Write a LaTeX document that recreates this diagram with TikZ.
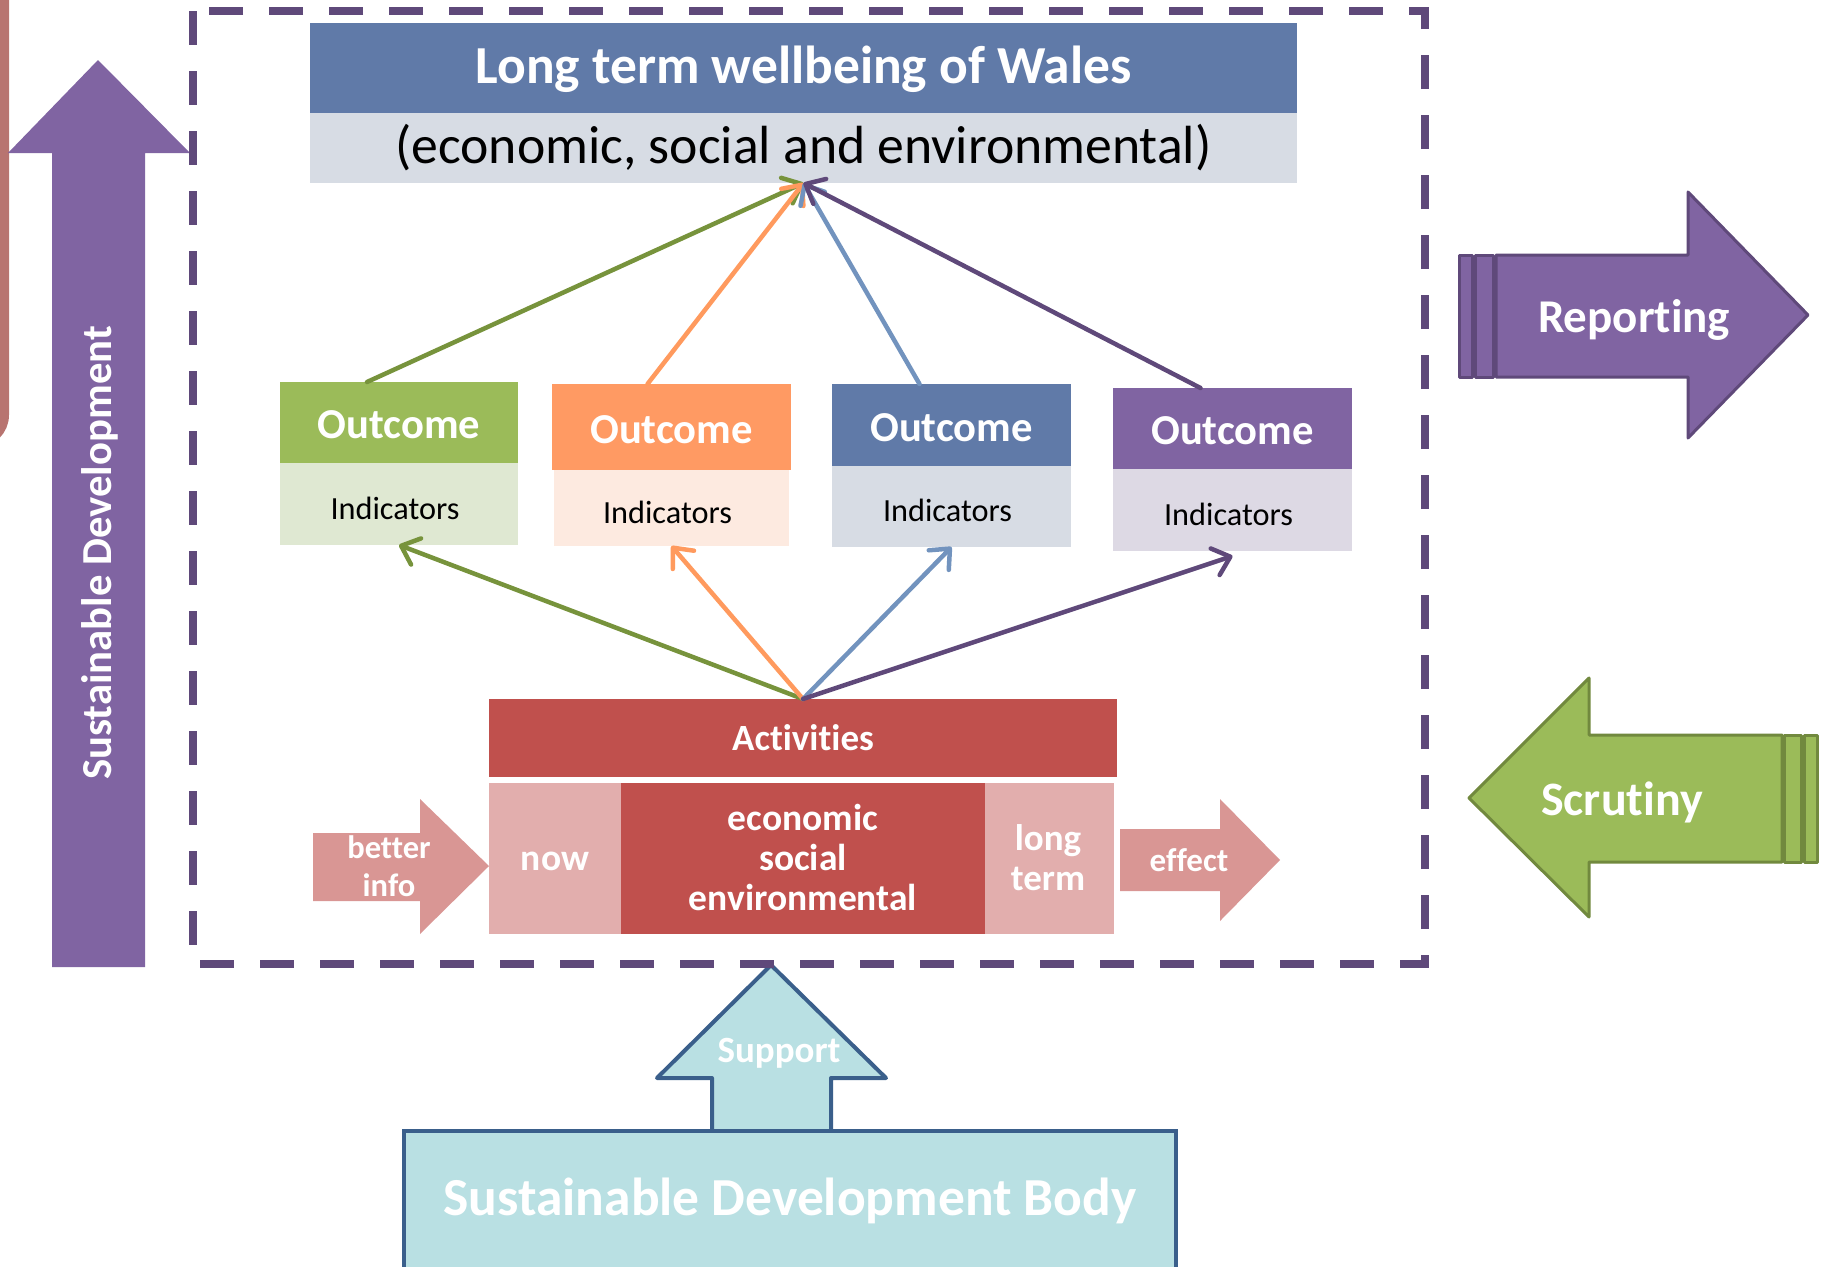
\documentclass[tikz,border=0pt]{standalone}
\usepackage{fontspec}
\setmainfont{Carlito}[Ligatures=CommonOff]
\usetikzlibrary{arrows.meta}
\newcommand\myfs[2]{\fontsize{#1}{#2}\selectfont}
\definecolor{tblue}{HTML}{607AA8}
\definecolor{tlight}{HTML}{D7DCE4}
\definecolor{ogreen}{HTML}{9BBB59}
\definecolor{glight}{HTML}{DFE8D2}
\definecolor{oorange}{HTML}{FF9A63}
\definecolor{olight}{HTML}{FDEAE0}
\definecolor{oblue}{HTML}{607AA8}
\definecolor{blight}{HTML}{D7DCE4}
\definecolor{opurple}{HTML}{8064A2}
\definecolor{plight}{HTML}{DDD9E4}
\definecolor{lgreen}{HTML}{77933C}
\definecolor{lorange}{HTML}{FF9A5E}
\definecolor{lblue}{HTML}{7293BE}
\definecolor{lpurple}{HTML}{5F497A}
\definecolor{actred}{HTML}{C0504D}
\definecolor{pinkbox}{HTML}{E2AEAD}
\definecolor{pinkarrow}{HTML}{D99694}
\definecolor{sdbfill}{HTML}{B9E0E3}
\definecolor{sdbline}{HTML}{3A5F8B}
\definecolor{brownc}{HTML}{B87470}
\definecolor{scrline}{HTML}{71893E}
\newcommand\indtext{Indicators\kern8pt}
\begin{document}
\begin{tikzpicture}[x=1pt,y=-1pt,
  box/.style={inner sep=0pt, outer sep=0pt, align=center},
  wtitle/.style={text=white, font=\bfseries\myfs{#1}{#1}},
  outc/.style={box, wtitle=42.6, minimum width=239pt, text height=32pt, text depth=0pt},
  indc/.style={inner sep=0pt, outer sep=0pt, font=\myfs{32.3}{36}, minimum width=239pt, text height=30pt, text depth=0pt},
  conn/.style={line width=4.5pt, line cap=round, -{Straight Barb[length=16pt,width=28pt,round]}},
  dashline/.style={draw=lpurple, line width=8pt, dash pattern=on 34pt off 26pt},
  bigarrow/.style={line width=3pt, line join=round}]
\useasboundingbox (0,0) rectangle (1822,1266);
\clip (0,0) rectangle (1822,1266);

% left brown edge
\draw[brownc, line width=9pt, rounded corners=28pt] (-60,-40) rectangle (4.5,443);

% big purple up arrow
\fill[opurple] (98,60) -- (190,153) -- (145,153) -- (145,967) -- (52,967) -- (52,153) -- (8,153) -- cycle;
\node[rotate=90, text=white, font=\bfseries\myfs{42.7}{50}] (sdv) at (99.5,553) {Sustainable Development};

% support arrow and body
\draw[sdbline, fill=sdbfill, line width=4pt, line join=round]
  (771,965) -- (886,1078) -- (831,1078) -- (831,1131) -- (712,1131) -- (712,1078) -- (657,1078) -- cycle;
\node[box, draw=sdbline, fill=sdbfill, line width=4pt, minimum width=772pt, minimum height=160pt] (sdbbox) at (790,1211) {};
\node[anchor=base, text=white, font=\bfseries\myfs{37}{40}] (support) at (779,1062) {Support};
\node[anchor=base, text=white, font=\bfseries\myfs{53.5}{60}] (sdbtext) at (790,1215) {Sustainable Development Body};

% dashed frame
\draw[dashline] (193,11) -- (193,964) -- (1425,964) -- (1425,11) -- cycle;

% title
\node[box, fill=tblue, minimum width=987pt, minimum height=90pt, wtitle=53.5, text height=31pt, text depth=0pt] (title) at (803.5,67.5) {Long term wellbeing of Wales};
\node[box, fill=tlight, minimum width=987pt, minimum height=70pt, font=\myfs{53.7}{60}] (sub) at (803.5,148) {(economic, social and environmental)};

% outcomes
\node[outc, fill=ogreen, minimum width=238pt, minimum height=81pt] (og) at (399,422.5) {Outcome};
\node[indc, fill=glight, minimum width=238pt, minimum height=82pt] (gi) at (399,504) {\indtext};
\node[outc, fill=oorange, minimum height=86pt] (oo) at (671.5,427) {Outcome};
\node[indc, fill=olight, minimum width=235pt, minimum height=76pt] (oi) at (671.5,508) {\indtext};
\node[outc, fill=oblue, minimum height=82pt] (ob) at (951.5,425) {Outcome};
\node[indc, fill=blight, minimum height=81pt] (bi) at (951.5,506.5) {\indtext};
\node[outc, fill=opurple, minimum height=81pt] (op) at (1232.5,428.5) {Outcome};
\node[indc, fill=plight, minimum height=82pt] (pi) at (1232.5,510) {\indtext};

% activities
\node[box, fill=actred, minimum width=628pt, minimum height=78pt, wtitle=37] (act) at (803,738) {Activities};
\node[box, fill=pinkbox, minimum width=132pt, minimum height=151pt] (nowbox) at (555,858.5) {};
\node[box, fill=actred, minimum width=364pt, minimum height=151pt] (midbox) at (803,858.5) {};
\node[box, fill=pinkbox, minimum width=129pt, minimum height=151pt] (ltbox) at (1049.5,858.5) {};
\node[box, wtitle=37.5] (nowtext) at (555,861.5) {now};
\node[box, text=white, font=\bfseries\myfs{37.5}{40}] (midtext) at (803,857) {economic\\social\\environmental};
\node[box, text=white, font=\bfseries\myfs{37}{40}] (lttext) at (1048,858) {long\\term};

% better info / effect arrows
\fill[pinkarrow] (313,833) -- (420,833) -- (420,799) -- (489,866) -- (420,934) -- (420,901) -- (313,901) -- cycle;
\node[box, text=white, font=\bfseries\myfs{32.5}{38}] (better) at (389,866.5) {better\\info};
\fill[pinkarrow] (1120,829) -- (1220,829) -- (1220,799) -- (1280,860) -- (1220,921) -- (1220,891) -- (1120,891) -- cycle;
\node[box, wtitle=33] (effect) at (1189,860) {effect};

% reporting arrow
\begin{scope}[draw=lpurple, fill=opurple]
\filldraw[bigarrow] (1459,255) rectangle (1472,377);
\filldraw[bigarrow] (1475,255) rectangle (1493,377);
\filldraw[bigarrow] (1496,255) -- (1688,255) -- (1688,192) -- (1808,315) -- (1688,438) -- (1688,377) -- (1496,377) -- cycle;
\end{scope}
\node[anchor=base, text=white, font=\bfseries\myfs{47}{50}] (reporting) at (1634,332) {Reporting};

% scrutiny arrow
\begin{scope}[draw=scrline, fill=ogreen]
\filldraw[bigarrow] (1469,798) -- (1589,678) -- (1589,735) -- (1782,735) -- (1782,862) -- (1589,862) -- (1589,917) -- cycle;
\filldraw[bigarrow] (1784,735) rectangle (1801,862);
\filldraw[bigarrow] (1804,735) rectangle (1817,862);
\end{scope}
\node[anchor=base, text=white, font=\bfseries\myfs{48}{50}] (scrutiny) at (1622,815) {Scrutiny};

% connectors to wellbeing
\draw[conn, lgreen] ([xshift=-32pt]og.north) -- (sub.south);
\draw[conn, lorange] ([xshift=-24pt]oo.north) -- (sub.south);
\draw[conn, lblue] ([xshift=-32pt]ob.north) -- (sub.south);
\draw[conn, lpurple] ([xshift=-32pt]op.north) -- (sub.south);

% connectors from activities
\draw[conn, lgreen] (act.north) -- (gi.south);
\draw[conn, lorange] (act.north) -- (oi.south);
\draw[conn, lblue] (act.north) -- (bi.south);
\draw[conn, lpurple] (act.north) -- ([yshift=-5pt]pi.south);
\end{tikzpicture}
\end{document}
